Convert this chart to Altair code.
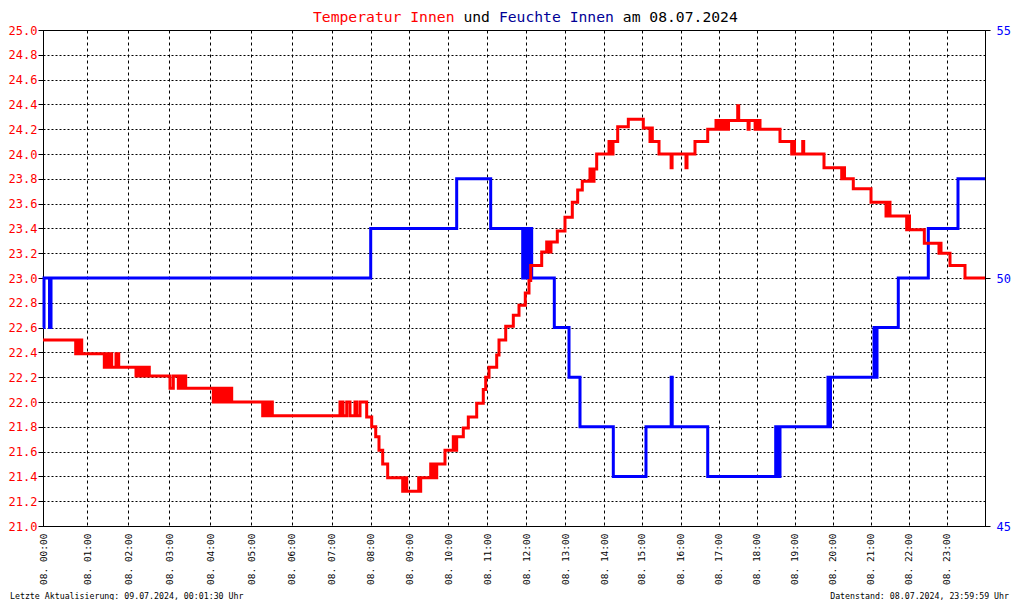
import altair as alt
import pandas as pd

MONO = "DejaVu Sans Mono"

# ---- data (hours of 08.07.2024, values) ----
temp_h = [
    0.0, 0.738, 0.779, 0.813, 0.847, 0.874,
    1.415, 1.468, 1.517, 1.566, 1.595, 1.700, 1.766,
    2.188, 2.237, 2.285, 2.346, 2.407, 2.468, 2.512,
    3.017, 3.098, 3.220, 3.261, 3.310, 3.359, 3.400,
    4.073, 4.139, 4.188, 4.261, 4.310, 4.383, 4.432, 4.480, 4.522,
    5.282, 5.339, 5.413, 5.475, 5.520,
    7.213, 7.290, 7.385, 7.469, 7.597, 7.641, 7.726, 7.897,
    8.026, 8.130, 8.215, 8.311, 8.440, 8.829, 8.876, 8.933,
    9.241, 9.260, 9.292, 9.549, 9.582, 9.633, 9.672, 9.703, 9.915,
    10.128, 10.172, 10.215, 10.385, 10.513, 10.728, 10.897, 10.959,
    11.044, 11.241, 11.300, 11.472, 11.667, 11.813, 11.974,
    12.069, 12.113, 12.395, 12.523, 12.582, 12.633, 12.795, 12.992,
    13.181, 13.320, 13.439, 13.638, 13.690, 13.742, 13.811,
    14.133, 14.186, 14.239, 14.363, 14.645,
    15.041, 15.213, 15.238, 15.272, 15.444, 15.754, 15.779,
    16.139, 16.166, 16.376, 16.711, 16.929,
    17.008, 17.061, 17.113, 17.166, 17.218, 17.258, 17.500, 17.526, 17.774, 17.800, 17.958, 17.982,
    18.034, 18.061, 18.087, 18.613, 18.921, 18.955, 18.995,
    19.211, 19.237, 19.771,
    20.237, 20.271, 20.311, 20.542,
    21.008, 21.403, 21.429, 21.508, 21.947, 21.982,
    22.021, 22.411, 22.797, 22.824, 22.850,
    23.086, 23.478, 24.0,
]
temp_v = [
    22.50, 22.39, 22.50, 22.39, 22.50, 22.39,
    22.28, 22.39, 22.28, 22.39, 22.28, 22.39, 22.28,
    22.21, 22.28, 22.21, 22.28, 22.21, 22.28, 22.21,
    22.11, 22.21, 22.11, 22.21, 22.11, 22.21, 22.11,
    22.00, 22.11, 22.00, 22.11, 22.00, 22.11, 22.00, 22.11, 22.00,
    21.89, 22.00, 21.89, 22.00, 21.89,
    22.00, 21.89, 22.00, 21.89, 22.00, 21.89, 22.00, 21.88,
    21.80, 21.72, 21.61, 21.50, 21.39, 21.28, 21.39, 21.28,
    21.39, 21.28, 21.39, 21.50, 21.39, 21.50, 21.39, 21.50, 21.61,
    21.72, 21.61, 21.72, 21.79, 21.88, 21.99, 22.10, 22.20,
    22.28, 22.38, 22.50, 22.61, 22.70, 22.78, 22.88,
    22.98, 23.10, 23.21, 23.29, 23.21, 23.29, 23.38, 23.49,
    23.61, 23.71, 23.78, 23.88, 23.78, 23.88, 24.00,
    24.10, 24.00, 24.10, 24.22, 24.28,
    24.21, 24.10, 24.21, 24.10, 24.00, 23.89, 24.00,
    23.89, 24.00, 24.10, 24.20, 24.27,
    24.20, 24.27, 24.20, 24.27, 24.20, 24.27, 24.39, 24.27, 24.20, 24.27, 24.20, 24.27,
    24.20, 24.27, 24.20, 24.10, 24.00, 24.10, 24.00,
    24.10, 24.00, 23.89,
    23.80, 23.89, 23.80, 23.72,
    23.61, 23.50, 23.61, 23.50, 23.39, 23.50,
    23.39, 23.28, 23.20, 23.28, 23.20,
    23.10, 23.00, 23.00,
]

hum_h = [0.0, 0.023, 0.147, 0.181, 8.0, 10.215, 11.087, 11.908, 11.941, 11.979,
         12.018, 12.056, 12.095, 12.138, 12.718, 13.096, 13.380, 14.247, 15.110,
         15.756, 15.782, 16.711, 18.500, 18.521, 18.547, 18.574, 18.613, 19.876,
         19.916, 19.942, 21.087, 21.126, 21.166, 21.726, 22.516, 23.295, 24.0]
hum_v = [49, 50, 49, 50, 51, 52, 51, 50, 51, 50,
         51, 50, 51, 50, 49, 48, 47, 46, 47,
         48, 47, 46, 47, 46, 47, 46, 47, 48,
         47, 48, 49, 48, 49, 50, 51, 52, 52]

hour_domain = [0, 1, 2, 3, 4, 5, 6, 7, 8, 9, 10, 11, 12, 13, 14, 15, 16, 17, 18, 19, 20, 21, 22, 23, 24]
hour_ticks = [0, 1, 2, 3, 4, 5, 6, 7, 8, 9, 10, 11, 12, 13, 14, 15, 16, 17, 18, 19, 20, 21, 22, 23]
temp_ticks = [21.0, 21.2, 21.4, 21.6, 21.8, 22.0, 22.2, 22.4, 22.6, 22.8, 23.0,
              23.2, 23.4, 23.6, 23.8, 24.0, 24.2, 24.4, 24.6, 24.8, 25.0]
hum_ticks = [45, 50, 55]

# scale layout (the original axis is not evenly spaced in time)
hour_px = [0, 44.3, 85.3, 126.3, 167.3, 208.3, 248.7, 288.7, 327.7, 366.3, 405.3, 444.3,
           483.3, 522.3, 561, 598.7, 637.7, 675.7, 713.7, 751.7, 789.7, 827.7, 865.7, 903.7, 942]

assert len(temp_h) == len(temp_v)
assert len(hum_h) == len(hum_v)

temp_df = pd.DataFrame({"h": temp_h, "t": temp_v})
hum_df = pd.DataFrame({"h": hum_h, "f": hum_v})

x_enc = alt.X(
    "h:Q",
    scale=alt.Scale(domain=hour_domain, range=hour_px, nice=False, zero=False),
    axis=alt.Axis(
        values=hour_ticks,
        labelExpr="'08. ' + (datum.value < 10 ? '0' : '') + datum.value + ':00'",
        labelAngle=270, labelFont=MONO, labelFontSize=9.5, labelColor="black",
        labelPadding=7, labelFlush=False, labelOverlap=False,
        ticks=False, grid=True, gridColor="black", gridDash=[3, 3], gridWidth=1,
        gridOpacity=1, domainColor="black", domainWidth=1, title=None,
    ),
)

hum_line = alt.Chart(hum_df).mark_line(
    color="#0000FF", strokeWidth=3, interpolate="step-after", strokeJoin="miter"
).encode(
    x=x_enc,
    y=alt.Y(
        "f:Q",
        scale=alt.Scale(domain=[45, 55], nice=False, zero=False),
        axis=alt.Axis(
            orient="right", values=hum_ticks, labelColor="#0000FF", labelFont=MONO,
            labelFontSize=12, tickSize=5, tickColor="black", domainColor="black",
            grid=False, title=None, labelPadding=6, labelFlush=False,
        ),
    ),
)

temp_line = alt.Chart(temp_df).mark_line(
    color="#FF0000", strokeWidth=3, interpolate="step-after", strokeJoin="miter"
).encode(
    x=x_enc,
    y=alt.Y(
        "t:Q",
        scale=alt.Scale(domain=[21, 25], nice=False, zero=False),
        axis=alt.Axis(
            orient="left", values=temp_ticks, format=".1f", labelColor="#FF0000",
            labelFont=MONO, labelFontSize=12, tickSize=5, tickColor="black",
            domainColor="black", grid=True, gridColor="black", gridDash=[2, 2],
            gridWidth=1, gridOpacity=1, title=None, labelPadding=1,
            labelFlush=False, labelOverlap=False,
        ),
    ),
)

one = pd.DataFrame({"a": [0]})


def txt(s, x, y, color, size, align="left"):
    return alt.Chart(one).mark_text(
        text=s, align=align, baseline="alphabetic", font=MONO, fontSize=size, color=color
    ).encode(x=alt.value(x), y=alt.value(y))


title_parts = [
    txt("Temperatur Innen", 270, -8, "#FF0000", 14.7),
    txt("und", 420.4, -8, "#000000", 14.7),
    txt("Feuchte Innen", 455.9, -8, "#000096", 14.7),
    txt("am 08.07.2024", 579.8, -8, "#000000", 14.7),
]
footer = [
    txt("Letzte Aktualisierung: 09.07.2024, 00:01:30 Uhr", -33, 569, "#000000", 8.25),
    txt("Datenstand: 08.07.2024, 23:59:59 Uhr", 966, 569, "#000000", 8.25, align="right"),
]

chart = alt.layer(hum_line, temp_line, *title_parts, *footer).resolve_scale(
    y="independent"
).properties(
    width=942, height=496,
    autosize=alt.AutoSizeParams(type="none"),
    padding={"left": 35, "top": 22, "right": 27, "bottom": 74},
    background="white",
).configure_view(stroke="black", strokeWidth=1)

chart.save("out.html", embed_options={"renderer": "svg", "actions": False})
